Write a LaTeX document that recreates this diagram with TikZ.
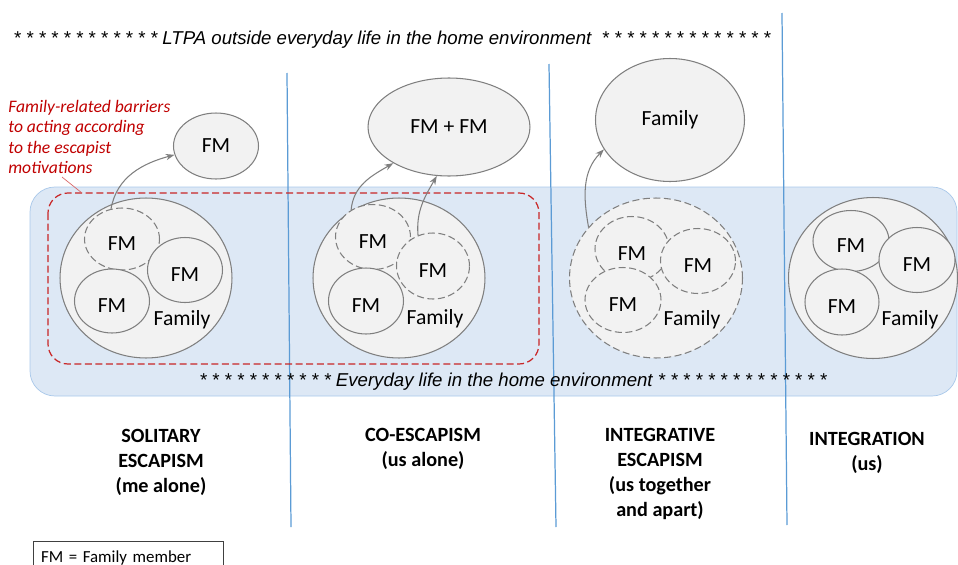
\documentclass[tikz,border=0pt]{standalone}
\usepackage{fontspec}
\setmainfont{Carlito}
\newfontfamily\arialfont{Liberation Sans}
\usetikzlibrary{arrows.meta,shapes.geometric}

\definecolor{circfill}{HTML}{F2F2F2}
\definecolor{circline}{HTML}{7F7F7F}
\definecolor{bandfill}{HTML}{DDE8F5}
\definecolor{bandline}{HTML}{A9C8EA}
\definecolor{sepblue}{HTML}{5B9BD5}
\definecolor{barrierred}{HTML}{C00000}

\tikzset{
    away/.style={dash pattern=on 4pt off 2pt},
    member/.style={text height=13.4pt, text depth=0pt},
    stage/.style={align=center, font=\bfseries\fontsize{11.5}{14.2}\selectfont},
    starline/.style={font=\arialfont\itshape\fontsize{10.6}{12}\selectfont}
}

\begin{document}
\begin{tikzpicture}[x=0.02cm,y=-0.02cm]
        \useasboundingbox (0,0) rectangle (958,565);

        % everyday life band
        \draw[draw=bandline, fill=bandfill, rounded corners=0.5cm] (30,187) rectangle (957,396);

        % separators
        \draw[sepblue, line width=0.7pt] (287,73) -- (291,527);
        \draw[sepblue, line width=0.7pt] (549,64) -- (556,527);
        \draw[sepblue, line width=0.7pt] (782,13) -- (787,525);

        % barriers frame
        \draw[barrierred!85, line width=0.7pt, away, rounded corners=0.4cm] (48,193) rectangle (539,364);
        \coordinate (leadstart) at (62,177);
        \coordinate (leadend) at (82,193);
        \draw[barrierred!60, line width=0.4pt] (leadstart) -- (leadend);

        \node[starline] (outside) at (392,40) {* * * * * * * * * * * * LTPA outside everyday life in the home environment \ * * * * * * * * * * * * * *};
        \node[starline] (inside) at (513,382) {* * * * * * * * * * * Everyday life in the home environment * * * * * * * * * * * * * *};

        \node[anchor=west, align=left, inner sep=0pt, text=barrierred,
              font=\itshape\fontsize{10}{11.7}\selectfont] (barriers) at (8,137)
              {Family-related barriers\\to acting according\\to the escapist\\motivations};

        \begin{scope}[every node/.style={ellipse,draw=circline,fill=circfill,line width=0.6pt,
                      inner sep=0pt,font=\fontsize{12.3}{14}\selectfont}]
            % outside the home
            \node[minimum width=1.7cm, minimum height=1.32cm] (solout) at (216,146) {FM};
            \node[minimum width=3.24cm, minimum height=1.96cm] (coout) at (449,127) {FM + FM};
            \node[minimum width=2.98cm, minimum height=2.46cm] (ieout) at (670,120) {Family};

            % families
            \node[minimum width=3.44cm, minimum height=3.2cm] (sol) at (146,278) {};
            \node[minimum width=3.44cm, minimum height=3.2cm] (co) at (399,278) {};
            \node[away, minimum width=3.46cm, minimum height=3.2cm] (ie) at (656,278) {};
            \node[minimum width=3.38cm, minimum height=3.22cm] (integ) at (873,278) {};

            \node[member, away, minimum width=1.5cm, minimum height=1.24cm] (sola) at (122,239) {FM};
            \node[member, minimum width=1.5cm, minimum height=1.3cm] (solb) at (185,270) {FM};
            \node[member, minimum width=1.5cm, minimum height=1.28cm] (solc) at (112,301) {FM};

            \node[member, away, minimum width=1.5cm, minimum height=1.3cm] (coa) at (373,237) {FM};
            \node[member, away, minimum width=1.46cm, minimum height=1.32cm] (cob) at (433,266) {FM};
            \node[member, minimum width=1.5cm, minimum height=1.32cm] (coc) at (366,301) {FM};

            \node[member, away, minimum width=1.48cm, minimum height=1.3cm] (iea) at (632,249) {FM};
            \node[member, away, minimum width=1.5cm, minimum height=1.3cm] (ieb) at (698,261) {FM};
            \node[member, away, minimum width=1.52cm, minimum height=1.3cm] (iec) at (623,300) {FM};

            \node[member, minimum width=1.52cm, minimum height=1.22cm] (intega) at (851,241) {FM};
            \node[member, minimum width=1.52cm, minimum height=1.3cm] (integb) at (917,260) {FM};
            \node[member, minimum width=1.48cm, minimum height=1.32cm] (integc) at (842,302) {FM};
        \end{scope}

        \begin{scope}[every node/.style={font=\fontsize{12.3}{14}\selectfont}]
            \node (solfam) at (182,320) {Family};
            \node (cofam) at (435,319) {Family};
            \node (iefam) at (692,320) {Family};
            \node (integfam) at (910,320) {Family};
        \end{scope}

        \begin{scope}[>={Stealth[length=5pt,width=3.6pt]},
            every edge/.style={draw=circline, line width=0.6pt}]
            \path [->] (sola.110) edge[out=80, in=195] (solout.192);
            \path [->] (coa.129) edge[out=85, in=210] (coout.213);
            \path [->] (cob.116) edge[out=95, in=240] (coout.256);
            \path [->] (ie.143) edge[out=100, in=225] (ieout.204);
        \end{scope}

        \node[stage] (solitary) at (161,462) {SOLITARY\\ESCAPISM\\(me alone)};
        \node[stage] (coesc) at (423,449) {CO-ESCAPISM\\(us alone)};
        \node[stage] (integesc) at (660,474) {INTEGRATIVE\\ESCAPISM\\(us together\\and apart)};
        \node[stage] (integration) at (867,453) {INTEGRATION\\(us)};

        \node[draw=black!75, line width=0.6pt, anchor=north west, minimum width=3.8cm, minimum height=0.64cm,
              text width=3.5cm, inner xsep=4pt, align=left, font=\fontsize{9.6}{11}\selectfont] (legend) at (33,541) {FM = Family member};
\end{tikzpicture}
\end{document}
